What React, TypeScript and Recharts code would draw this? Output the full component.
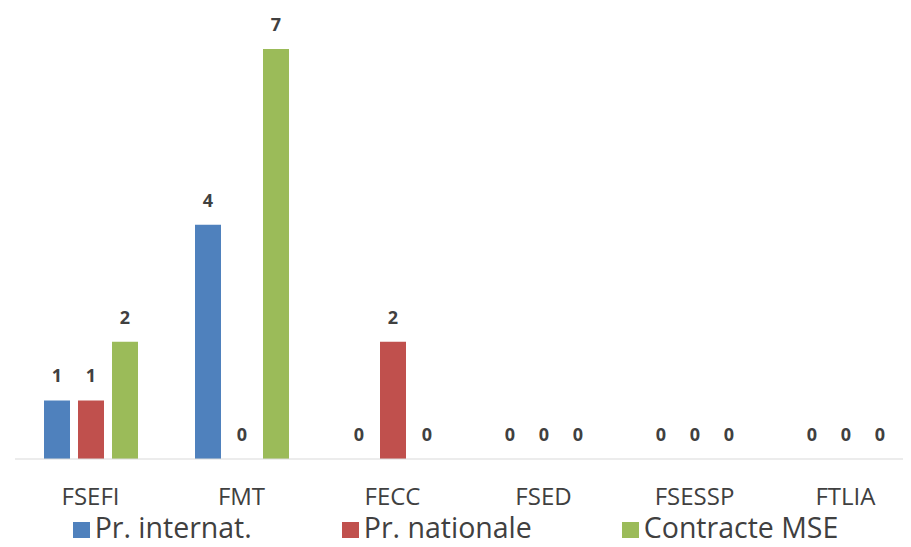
import { BarChart, Bar, XAxis, YAxis, Legend, LabelList } from 'recharts';

const faculties = ['FSEFI', 'FMT', 'FECC', 'FSED', 'FSESSP', 'FTLIA'];
const internationalProjects = [1, 4, 0, 0, 0, 0];
const nationalProjects = [1, 0, 2, 0, 0, 0];
const mseContracts = [2, 7, 0, 0, 0, 0];

const SERIES = [
    { key: 'intl', name: 'Pr. internat.', color: '#4F81BD' },
    { key: 'nat', name: 'Pr. nationale', color: '#C0504D' },
    { key: 'mse', name: 'Contracte MSE', color: '#9BBB59' },
];

const FONT = '"Open Sans", sans-serif';
const TEXT = '#404040';

const chartData = faculties.map((name, i) => ({
    name,
    intl: internationalProjects[i],
    nat: nationalProjects[i],
    mse: mseContracts[i],
}));

// zero bars get a hair of height so their "0" label still shows
const keepZero = (value: unknown) => (value === 0 ? 0.01 : 0);

const LegendContent = () => (
    <div
        style={{
            height: 24,
            display: 'flex',
            justifyContent: 'center',
            alignItems: 'center',
            gap: 90,
            fontFamily: FONT,
            fontSize: 28.5,
            color: TEXT,
        }}
    >
        {SERIES.map((s) => (
            <div key={s.key} style={{ display: 'flex', alignItems: 'center', whiteSpace: 'nowrap', height: 24 }}>
                <span
                    style={{
                        width: 17,
                        height: 16,
                        background: s.color,
                        marginRight: 5,
                        marginTop: 6,
                        display: 'inline-block',
                    }}
                />
                <span style={{ lineHeight: '24px' }}>{s.name}</span>
            </div>
        ))}
    </div>
);

export default function App() {
    return (
        // pull the chart into the page corner, the plot runs a bit past the right edge
        <div style={{ margin: -8, width: 911, height: 547, overflow: 'hidden', background: '#fff' }}>
            <BarChart
                width={930}
                height={547}
                data={chartData}
                margin={{ top: 49, right: 9, left: 15, bottom: 5 }}
                barSize={26}
                barGap={8}
            >
                <XAxis
                    dataKey="name"
                    axisLine={{ stroke: '#d9d9d9' }}
                    tickLine={false}
                    tickMargin={23}
                    height={59}
                    interval={0}
                    tick={{ fill: TEXT, fontSize: 24, fontFamily: FONT }}
                />
                <YAxis hide domain={[0, 7]} />
                <Legend
                    verticalAlign="bottom"
                    content={<LegendContent />}
                    wrapperStyle={{ left: 0, width: 911, top: 515, bottom: 'auto', height: 24 }}
                />
                {SERIES.map((s) => (
                    <Bar
                        key={s.key}
                        dataKey={s.key}
                        name={s.name}
                        fill={s.color}
                        minPointSize={keepZero}
                        isAnimationActive={false}
                    >
                        <LabelList
                            dataKey={s.key}
                            position="top"
                            offset={18}
                            fill={TEXT}
                            fontSize={18}
                            fontWeight={700}
                            fontFamily={FONT}
                        />
                    </Bar>
                ))}
            </BarChart>
        </div>
    );
}
